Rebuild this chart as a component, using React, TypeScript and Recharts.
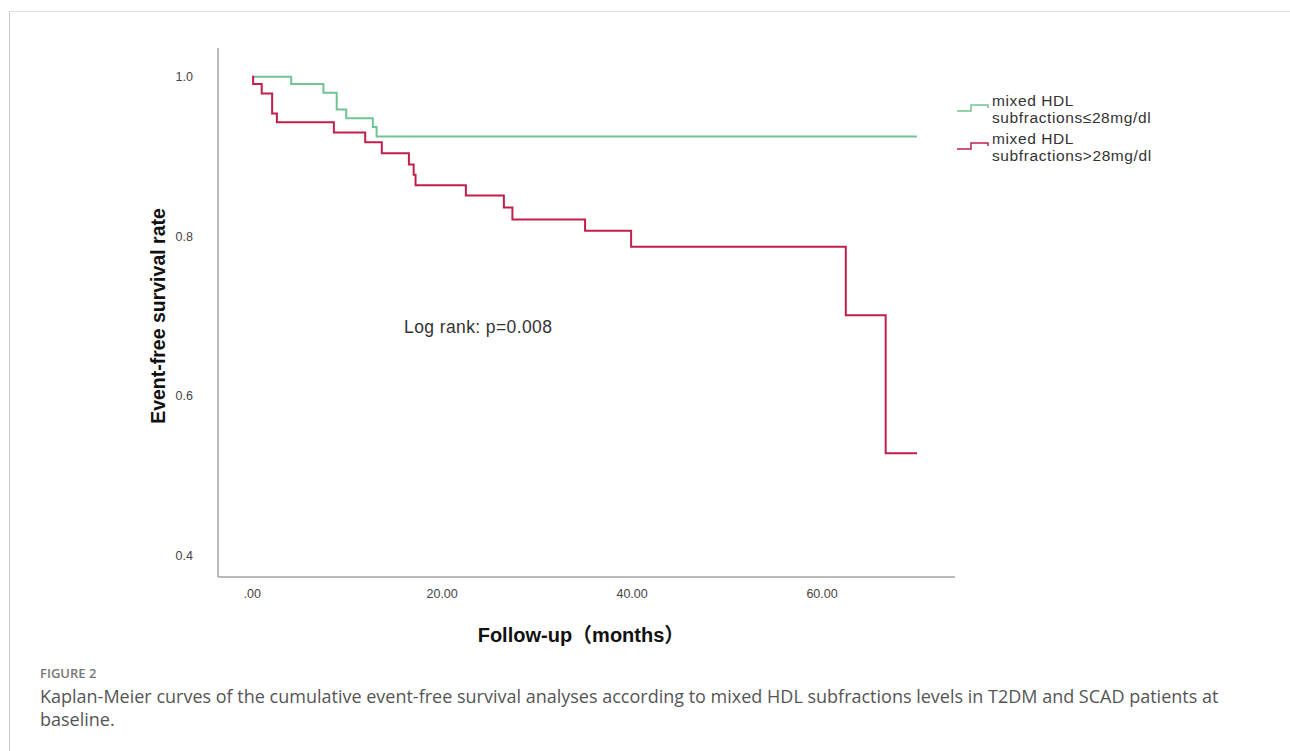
import React from 'react';
import { LineChart, Line, XAxis, YAxis, Legend } from 'recharts';

// Kaplan-Meier step points (time in months, survival)
const lowTime = [0, 4.1, 7.5, 8.9, 9.9, 12.7, 13.1, 70];
const lowSurv = [1.0, 0.991, 0.98, 0.959, 0.948, 0.937, 0.925, 0.925];

const highTime = [0, 0.1, 1.0, 2.1, 2.6, 8.6, 11.9, 13.65, 16.5, 17.0, 17.2, 22.5, 26.5, 27.4, 35.05, 39.9, 62.5, 66.7, 70];
const highSurv = [1.0, 0.991, 0.979, 0.954, 0.943, 0.93, 0.918, 0.904, 0.89, 0.877, 0.864, 0.851, 0.836, 0.821, 0.807, 0.787, 0.701, 0.528, 0.528];

const xTicks = [0, 20, 40, 60];
const yTicks = [0.4, 0.6, 0.8, 1.0];

const lowData = lowTime.map((t, i) => ({ t, s: lowSurv[i] }));
const highData = highTime.map((t, i) => ({ t, s: highSurv[i] }));

const GREEN = '#72c494';
const RED = '#c01f4a';
const FONT = '"Liberation Sans", Arial, "Noto Sans CJK SC", sans-serif';

function StepIcon({ color }: { color: string }) {
  return (
    <svg width={34} height={10} style={{ display: 'block' }}>
      <polyline points="1,8 15,8 15,2 32,2 32,5" fill="none" stroke={color} strokeWidth={1.5} />
    </svg>
  );
}

function KmLegend() {
  const items = [
    { color: GREEN, lines: ['mixed HDL', 'subfractions≤28mg/dl'] },
    { color: RED, lines: ['mixed HDL', 'subfractions>28mg/dl'] },
  ];
  return (
    <div style={{ fontFamily: FONT, fontSize: 15.5, letterSpacing: 0.6, color: '#333', lineHeight: '16.5px' }}>
      {items.map((it) => (
        <div key={it.lines[1]} style={{ display: 'flex', alignItems: 'flex-start', marginBottom: 5 }}>
          <div style={{ marginTop: 10, marginRight: 2 }}>
            <StepIcon color={it.color} />
          </div>
          <div>
            {it.lines.map((l) => (
              <div key={l}>{l}</div>
            ))}
          </div>
        </div>
      ))}
    </div>
  );
}

export default function App() {
  return (
    <div style={{ position: 'absolute', left: 0, top: 0, width: 1290, height: 751, background: '#fff', overflow: 'hidden' }}>
      <div
        style={{
          position: 'absolute',
          left: 9,
          top: 11,
          right: 0,
          bottom: 0,
          borderTop: '1px solid #e1e1e1',
          borderLeft: '1px solid #cccccc',
        }}
      />
      <div style={{ position: 'absolute', left: 0, top: 0 }}>
        <LineChart width={1290} height={751} margin={{ left: 158, top: 48, right: 335, bottom: 144 }}>
          <XAxis
            type="number"
            dataKey="t"
            domain={[-3.6, 74]}
            ticks={xTicks}
            allowDataOverflow
            tickFormatter={(v: number) => (v === 0 ? '.00' : v.toFixed(2))}
            tickLine={false}
            tickSize={0}
            tickMargin={12}
            height={30}
            axisLine={{ stroke: '#a3a3a3', strokeWidth: 1.5 }}
            tick={{ fill: '#444', fontSize: 12.5, fontFamily: FONT }}
          />
          <YAxis
            type="number"
            domain={[0.373, 1.036]}
            ticks={yTicks}
            allowDataOverflow
            tickFormatter={(v: number) => v.toFixed(1)}
            tickLine={false}
            tickSize={0}
            tickMargin={25}
            width={60}
            axisLine={{ stroke: '#a3a3a3', strokeWidth: 1.5 }}
            tick={{ fill: '#444', fontSize: 12.5, fontFamily: FONT }}
          />
          <Legend
            verticalAlign="middle"
            layout="horizontal"
            content={() => <KmLegend />}
            wrapperStyle={{ position: 'absolute', left: 956, top: 93, width: 260 }}
          />
          <Line
            data={lowData}
            dataKey="s"
            type="stepAfter"
            stroke={GREEN}
            strokeWidth={2}
            dot={false}
            activeDot={false}
            isAnimationActive={false}
          />
          <Line
            data={highData}
            dataKey="s"
            type="stepAfter"
            stroke={RED}
            strokeWidth={2}
            dot={false}
            activeDot={false}
            isAnimationActive={false}
          />
        </LineChart>
      </div>
      <div
        style={{
          position: 'absolute',
          left: 158,
          top: 316,
          transform: 'translate(-50%, -50%) rotate(-90deg)',
          fontFamily: FONT,
          fontWeight: 'bold',
          fontSize: 19.5,
          color: '#111',
          whiteSpace: 'nowrap',
        }}
      >
        Event-free survival rate
      </div>
      <div
        style={{
          position: 'absolute',
          left: 581,
          top: 633,
          transform: 'translate(-50%, -50%)',
          fontFamily: FONT,
          fontWeight: 'bold',
          fontSize: 20,
          color: '#111',
          whiteSpace: 'nowrap',
        }}
      >
        Follow-up（months）
      </div>
      <div
        style={{
          position: 'absolute',
          left: 404,
          top: 317,
          fontFamily: FONT,
          fontSize: 17.5,
          letterSpacing: 0.4,
          color: '#333',
          whiteSpace: 'nowrap',
        }}
      >
        Log rank: p=0.008
      </div>
      <div style={{ position: 'absolute', left: 40, top: 664, right: 40, fontFamily: '"Open Sans", sans-serif', color: '#666' }}>
        <div style={{ fontSize: 13, fontWeight: 600, color: '#777', lineHeight: '18px' }}>FIGURE 2</div>
        <div style={{ fontSize: 18, lineHeight: '23px', color: '#555', marginTop: 3 }}>
          Kaplan-Meier curves of the cumulative event-free survival analyses according to mixed HDL subfractions levels in T2DM and SCAD patients at baseline.
        </div>
      </div>
    </div>
  );
}
